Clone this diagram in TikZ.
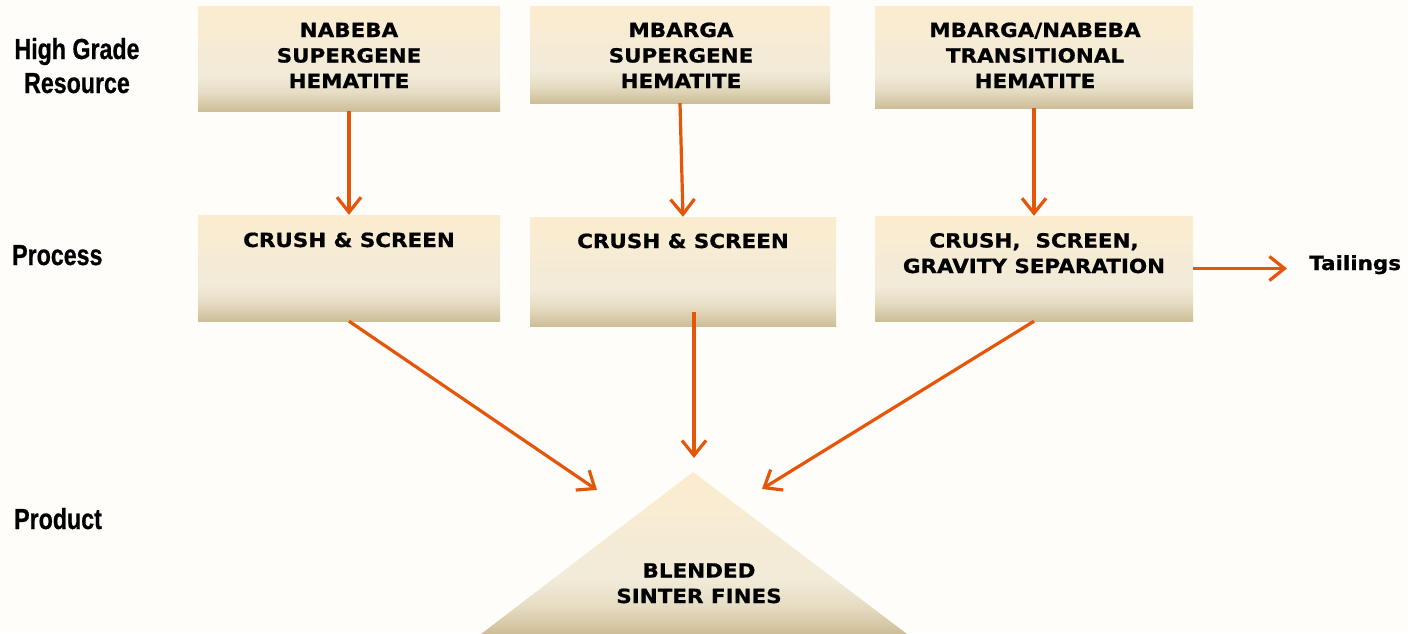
\documentclass[tikz,border=0pt]{standalone}
\usepackage{fontspec}
\usetikzlibrary{arrows.meta}
\newfontfamily\boxfont[FakeStretch=1.1,FakeBold=0.8]{DejaVu Sans Bold}
\newfontfamily\lblfont[FakeStretch=0.8,FakeBold=0.6]{Liberation Sans Bold}
\definecolor{bgcol}{RGB}{254,253,249}
\definecolor{btop}{RGB}{252,236,207}
\definecolor{bmid}{RGB}{241,235,217}
\definecolor{bmid2}{RGB}{230,221,196}
\definecolor{bbot}{RGB}{205,190,152}
\definecolor{arr}{RGB}{228,86,10}
\pgfdeclareverticalshading{boxshade}{100bp}{color(0bp)=(bbot); color(25bp)=(bbot); color(34bp)=(bmid2); color(42bp)=(bmid); color(75bp)=(btop); color(100bp)=(btop)}
\tikzset{
  box/.style={shading=boxshade, draw=none, inner sep=0pt},
  btext/.style={font=\boxfont\fontsize{19.5}{25.5}\selectfont, align=center, inner sep=0pt, anchor=base},
  lbl/.style={font=\lblfont\fontsize{29}{34}\selectfont, align=center, inner sep=0pt, anchor=base},
  flow/.style={draw=arr, line width=3.2pt, -{Straight Barb[length=15pt,width=24pt,line width=3.2pt]}}
}
\begin{document}
\begin{tikzpicture}[x=1pt,y=-1pt]
\fill[bgcol] (0,0) rectangle (1408,633);
\useasboundingbox (0,0) rectangle (1408,633);
% resource boxes
\node[box, minimum width=302pt, minimum height=105pt] (r1) at (349,58.5) {};
\node[box, minimum width=300pt, minimum height=97pt] (r2) at (680,54.5) {};
\node[box, minimum width=318pt, minimum height=102pt] (r3) at (1034,57) {};
% process boxes
\node[box, minimum width=302pt, minimum height=106pt] (p1) at (349,268) {};
\node[box, minimum width=306pt, minimum height=109pt] (p2) at (683,271.5) {};
\node[box, minimum width=318pt, minimum height=105pt] (p3) at (1034,268.5) {};
% product triangle
\coordinate (apex) at (693,472);
\shade[shading=boxshade] (apex) -- (907,634) -- (481,634) -- cycle;
% texts (base = last line)
\node[btext] (t1) at (349,88) {NABEBA\\SUPERGENE\\HEMATITE};
\node[btext] (t2) at (681,88) {MBARGA\\SUPERGENE\\HEMATITE};
\node[btext] (t3) at (1035,88) {MBARGA/NABEBA\\TRANSITIONAL\\HEMATITE};
\node[btext] (t4) at (349,247) {CRUSH \& SCREEN};
\node[btext] (t5) at (683,248) {CRUSH \& SCREEN};
\node[btext] (t6) at (1034,273) {CRUSH,\ \ SCREEN,\\GRAVITY SEPARATION};
\node[btext] (t7) at (699,603) {BLENDED\\SINTER FINES};
\node[btext, anchor=base west] (tail) at (1309,270) {Tailings};
% labels
\node[lbl] (l1) at (77,93) {High Grade\\Resource};
\node[lbl, anchor=base west] (l2) at (12,265) {Process};
\node[lbl, anchor=base west] (l3) at (14,529) {Product};
% arrow targets
\coordinate (inL) at (597,490);
\coordinate (inM) at (694,458);
\coordinate (inR) at (762,489);
\coordinate (outM) at (694,312);
% connectors
\draw[flow] (r1.south) -- (p1.north);
\draw[flow] (r2.south) -- (p2.north);
\draw[flow] (r3.south) -- (p3.north);
\draw[flow] (p1.south) -- (inL);
\draw[flow] (outM) -- (inM);
\draw[flow] (p3.south) -- (inR);
\draw[flow, shorten >=22pt] (p3.east) -- (tail.west |- p3.east);
\end{tikzpicture}
\end{document}
